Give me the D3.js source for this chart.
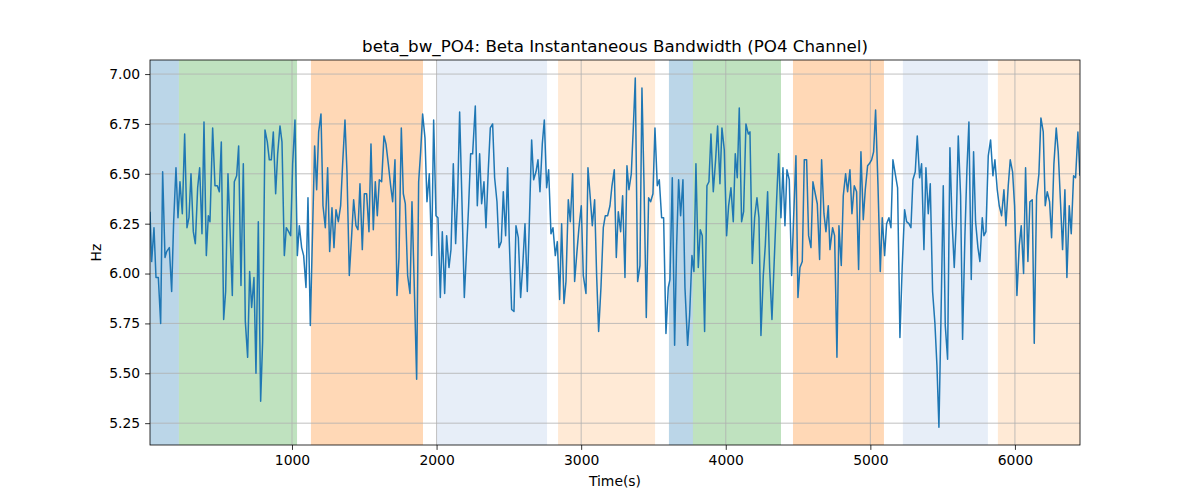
<!DOCTYPE html>
<html><head><meta charset="utf-8">
<script src="https://cdn.jsdelivr.net/npm/d3@7"></script>
<style>body{margin:0;background:#fff}svg{font-family:"DejaVu Sans",sans-serif}</style>
</head><body><svg id="c" width="1200" height="500"></svg>
<script>
const times = [18,29.5,45.6,59.4,75.6,91.7,105.5,121.7,133.2,151.6,167.8,181.6,197.7,211.6,225.4,241.5,257.7,273.8,287.6,301.5,317.6,331.4,347.6,361.4,377.5,391.4,407.5,421.3,432.8,451.3,467.4,483.6,497.4,511.2,527.4,541.2,557.3,571.2,587.3,601.1,617.3,631.1,647.2,663.4,677.2,693.3,707.2,721,737.1,751,767.1,783.2,797,813.2,829.3,
843.2,857,870.9,887,900.9,917,930.8,947,960.8,977,990.8,1004.6,1020.7,1036.9,1050.7,1066.8,1080.7,1096.8,1110.6,1126.8,1142.9,1156.7,1170.6,1184.4,1200.5,1214.4,1230.5,1246.6,1260.5,1276.6,1290.4,1304.3,1320.4,1336.5,1350.3,1366.5,1380.3,1396.4,1412.6,1426.4,1442.5,1456.4,1470.2,1486.3,1500.2,1516.3,1532.4,1546.3,1562.4,1576.2,1590.1,1603.9,1620,1636.2,1650,
1666.2,1682.4,1696.2,1712.3,1726.2,1740,1756.1,1770,1783.8,1799.9,1816.1,1829.9,1846,1862.2,1876,1889.8,1903.6,1919.8,1933.6,1949.7,1965.9,1979.7,1995.8,2009.7,2025.8,2039.6,2055.8,2069.6,2085.7,2099.6,2115.7,2131.8,2145.7,2159.5,2175.6,2191.8,2205.6,2221.7,2235.6,2249.4,2267.8,2281.7,2297.8,2311.6,2327.8,2341.6,2357.7,2371.6,2387.7,2401.5,2417.7,2431.5,2447.6,2461.5,2477.6,2491.4,
2503,2519.2,2535.3,2549.1,2565.3,2581.4,2595.2,2611.4,2627.5,2641.3,2657.5,2671.3,2687.5,2701.3,2715.1,2731.2,2745.1,2761.2,2775,2791.2,2805,2821.1,2835,2851.1,2864.9,2881.1,2894.9,2911,2924.9,2941,2954.8,2971,2984.8,3000.9,3014.8,3033.2,3047,3060.9,3077,3093.1,3107,3120.8,3136.9,3153.1,3166.9,3183,3199.2,3213,3229.1,3243,3256.8,3272.9,3286.8,3302.9,3316.7,
3330.5,3346.7,3360.5,3374.3,3390.5,3406.6,3420.4,3434.3,3450.4,3466.5,3480.4,3496.5,3510.3,3526.5,3540.3,3556.4,3570.3,3586.4,3602.5,3614,3630.2,3646.3,3660.2,3674,3687.8,3703.9,3717.8,3736.2,3750,3766.2,3780,3793.8,3810,3823.8,3837.6,3853.8,3869.9,3883.7,3897.6,3913.7,3929.8,3943.7,3959.8,3973.6,3989.8,4005.9,4019.8,4035.9,4052,4065.8,4079.7,4093.5,4109.6,4123.5,4139.6,4155.7,
4167.4,4183.5,4199.6,4215.8,4229.6,4243.4,4259.6,4273.4,4289.5,4303.3,4319.5,4335.6,4351.8,4365.6,4381.7,4395.6,4409.4,4423.2,4439.3,4455.5,4469.3,4485.4,4499.3,4513.1,4529.2,4543.1,4559.2,4573,4589.2,4603,4619.1,4633,4649.1,4662.9,4679.1,4692.9,4709,4720.6,4739,4752.8,4769,4782.8,4798.9,4812.8,4828.9,4842.7,4858.9,4872.7,4888.8,4905,4918.8,4934.9,4951.1,4964.9,4981,
4992.5,5008.7,5022.5,5036.3,5052.5,5068.6,5082.4,5098.6,5112.4,5128.5,5142.4,5156.2,5172.3,5188.5,5204.6,5220.7,5236.9,5250.7,5266.8,5280.7,5294.5,5310.6,5324.5,5340.6,5354.4,5370.6,5384.4,5400.5,5414.4,5430.5,5446.6,5460.5,5474.3,5488.1,5504.3,5518.1,5534.2,5550.4,5564.2,5580.3,5594.1,5608,5624.1,5637.9,5654.1,5667.9,5681.7,5697.9,5714,5727.8,5744,5757.8,5774,5785.5,5799.3,5815.5,
5831.6,5847.7,5861.5,5877.7,5891.5,5907.6,5923.8,5937.6,5953.7,5967.6,5983.7,5997.5,6013.7,6029.8,6043.6,6059.8,6073.6,6089.7,6103.6,6119.7,6133.5,6149.7,6165.8,6179.6,6195.8,6209.6,6223.4,6239.6,6253.4,6269.5,6285.7,6299.5,6315.6,6329.5,6345.6,6359.4,6375.6,6389.4,6405.6,6419.4,6435.5,6449.3];
const values = [6.31,6.06,6.23,5.98,5.98,5.75,6.51,6.08,6.11,6.13,5.91,6.26,6.53,6.28,6.46,6.30,6.70,6.23,6.28,6.50,6.21,6.15,6.43,6.53,6.20,6.76,6.09,6.29,6.26,6.73,6.44,6.44,6.41,6.66,5.77,5.91,6.50,6.23,5.89,6.46,6.49,6.64,5.94,6.55,5.76,5.58,6.01,5.83,5.98,5.50,6.26,5.36,5.66,6.72,6.66,
6.57,6.57,6.71,6.40,6.60,6.74,6.66,6.09,6.23,6.21,6.19,6.55,6.77,6.09,6.24,6.13,6.09,5.93,6.38,5.74,6.23,6.64,6.42,6.71,6.80,6.34,6.23,6.53,6.11,6.33,6.13,6.32,6.26,6.34,6.55,6.77,6.51,5.99,6.19,6.37,6.24,6.22,6.45,6.12,6.40,6.40,6.21,6.65,6.22,6.46,6.29,6.47,6.46,6.69,6.65,
6.55,6.44,6.36,6.57,5.89,6.08,6.73,6.40,6.35,5.99,5.90,6.36,5.93,5.47,6.46,6.61,6.80,6.68,6.36,6.50,6.09,6.77,6.29,6.28,5.88,6.21,5.90,6.19,6.03,6.12,6.55,6.15,6.39,6.81,6.36,5.88,6.09,6.34,6.60,6.60,6.84,6.34,6.60,6.35,6.46,6.23,6.52,6.73,6.75,6.48,6.36,6.13,6.16,6.41,6.19,6.53,
6.16,5.82,5.81,6.24,6.18,5.88,6.03,6.25,5.91,6.25,6.67,6.47,6.51,6.57,6.41,6.65,6.77,6.43,6.52,6.20,6.23,6.09,6.16,5.87,6.25,5.85,5.96,6.37,6.26,6.50,5.96,6.11,6.23,6.34,5.99,5.90,6.53,6.40,6.24,6.37,5.99,5.71,5.93,6.23,6.29,6.29,6.34,6.44,6.52,6.08,6.31,6.21,6.39,5.98,6.54,
6.42,6.50,6.73,6.98,5.96,6.04,6.93,6.46,5.78,6.38,6.36,6.40,6.73,6.44,6.47,6.28,6.28,5.70,5.93,5.97,6.48,5.64,6.14,6.47,6.29,6.47,5.93,5.64,5.79,6.09,6.01,6.55,6.03,6.22,6.19,5.71,6.44,6.46,6.70,6.41,6.57,6.74,6.45,6.73,6.62,6.19,6.34,6.43,6.26,6.60,6.48,6.83,6.26,6.31,6.75,6.70,
6.71,6.05,6.28,6.38,6.28,5.69,5.99,6.14,6.41,6.03,5.77,6.07,6.37,6.60,6.28,6.53,6.24,6.52,6.47,5.99,6.28,6.59,5.88,6.03,6.06,6.57,6.57,6.19,6.13,6.46,6.40,6.35,6.07,6.57,6.30,6.21,6.34,6.12,6.23,6.19,5.58,6.24,6.04,6.39,6.50,6.41,6.52,6.30,6.44,6.41,6.02,6.61,6.27,6.42,6.54,
6.55,6.57,6.61,6.82,6.45,6.01,6.28,6.09,6.25,6.28,6.23,6.57,6.50,6.43,5.68,6.04,6.32,6.26,6.25,6.23,6.47,6.51,6.69,6.48,6.55,6.12,6.53,6.30,6.45,5.91,5.75,5.54,5.23,5.76,6.44,5.74,5.57,6.63,6.28,6.03,6.25,6.69,6.39,5.67,6.19,6.52,6.76,5.97,6.61,6.26,6.13,6.06,6.28,6.19,6.21,6.59,
6.67,6.49,6.57,6.42,6.34,6.29,6.42,6.24,6.44,6.57,6.51,6.34,5.89,6.14,6.24,6.00,6.53,6.06,6.36,6.37,5.65,6.39,6.50,6.78,6.71,6.34,6.41,6.36,6.18,6.55,6.73,6.61,6.35,6.12,6.42,5.98,6.34,6.20,6.49,6.48,6.71,6.49];
const spanStarts = [18,218,1131,2003,2840,3607,3773,4465,5225,5882];
const spanEnds   = [218,1035,1906,2764,3511,3773,4382,5094,5813,6450];
const spanColors = ["#1f77b4","#2ca02c","#ff7f0e","#aec7e8","#ffbb78","#1f77b4","#2ca02c","#ff7f0e","#aec7e8","#ffbb78"];
const xTicks = [1000,2000,3000,4000,5000,6000];
const yTicks = [5.25,5.5,5.75,6.0,6.25,6.5,6.75,7.0];

const svg = d3.select("#c");
const L=150,R=1080,T=60,B=445;
const x = d3.scaleLinear().domain([18,6450]).range([L,R]);
const y = d3.scaleLinear().domain([5.1405,7.0705]).range([B,T]);

const g = svg.append("g");
g.selectAll("rect.span").data(spanStarts).join("rect")
  .attr("x",(d,i)=>x(d)).attr("width",(d,i)=>x(spanEnds[i])-x(d))
  .attr("y",T).attr("height",B-T)
  .attr("fill",(d,i)=>spanColors[i]).attr("fill-opacity",0.3);

// grid
g.selectAll("line.gx").data(xTicks).join("line")
  .attr("x1",d=>x(d)).attr("x2",d=>x(d)).attr("y1",T).attr("y2",B)
  .attr("stroke","#b0b0b0").attr("stroke-width",0.8);
g.selectAll("line.gy").data(yTicks).join("line")
  .attr("y1",d=>y(d)).attr("y2",d=>y(d)).attr("x1",L).attr("x2",R)
  .attr("stroke","#b0b0b0").attr("stroke-width",0.8);

const pts = times.map((t,i)=>[t,values[i]]);
svg.append("defs").append("clipPath").attr("id","clip").append("rect").attr("x",L).attr("y",T).attr("width",R-L).attr("height",B-T);
g.append("path").datum(pts).attr("clip-path","url(#clip)")
  .attr("d",d3.line().x(d=>x(d[0])).y(d=>y(d[1])))
  .attr("fill","none").attr("stroke","#1f77b4").attr("stroke-width",1.5).attr("stroke-linejoin","round");

const xa = svg.append("g").attr("transform",`translate(0,${B})`)
  .call(d3.axisBottom(x).tickValues(xTicks).tickFormat(d3.format("d")).tickSize(4.9).tickPadding(4.9));
const ya = svg.append("g").attr("transform",`translate(${L},0)`)
  .call(d3.axisLeft(y).tickValues(yTicks).tickFormat(d3.format(".2f")).tickSize(4.9).tickPadding(4.9));
[xa,ya].forEach(a=>{a.select(".domain").remove();a.selectAll("text").attr("font-size",13.9).attr("fill","#000").attr("font-family","DejaVu Sans");a.selectAll("line").attr("stroke","#000").attr("stroke-width",0.8);});

svg.append("rect").attr("x",L).attr("y",T).attr("width",R-L).attr("height",B-T)
  .attr("fill","none").attr("stroke","#000").attr("stroke-width",0.8);

svg.append("text").attr("x",(L+R)/2).attr("y",52).attr("text-anchor","middle")
  .attr("font-size",16.7).text("beta_bw_PO4: Beta Instantaneous Bandwidth (PO4 Channel)");
svg.append("text").attr("x",(L+R)/2).attr("y",486).attr("text-anchor","middle")
  .attr("font-size",13.9).text("Time(s)");
svg.append("text").attr("transform",`translate(101,${(T+B)/2}) rotate(-90)`).attr("text-anchor","middle")
  .attr("font-size",13.9).text("Hz");
</script></body></html>
